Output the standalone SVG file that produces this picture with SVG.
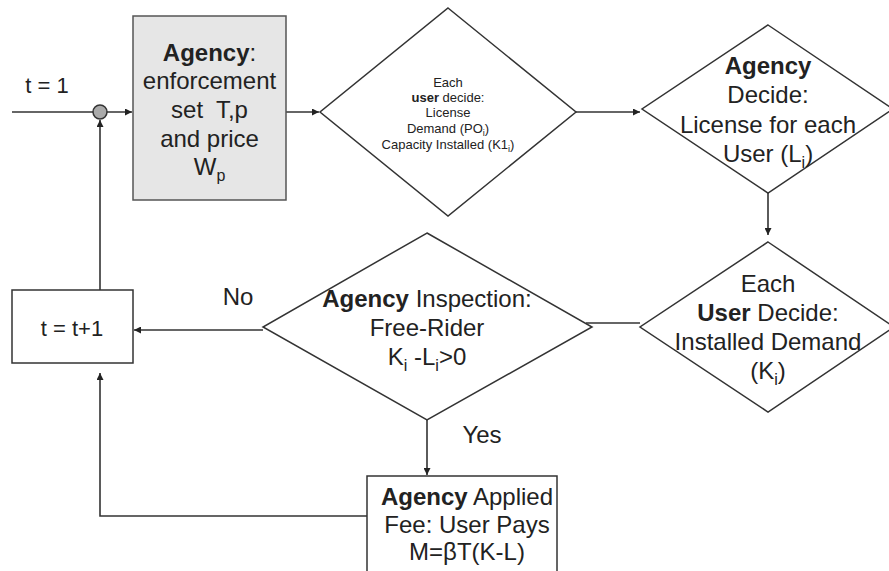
<svg xmlns="http://www.w3.org/2000/svg" width="889" height="571" viewBox="0 0 889 571">
<defs>
<marker id="arr" viewBox="0 0 10 10" refX="10" refY="5" markerWidth="7" markerHeight="7" markerUnits="userSpaceOnUse" orient="auto">
<path d="M0,0 L10,5 L0,10 z" fill="#222"/>
</marker>
</defs>
<style>
.shape{fill:#fff;stroke:#333;stroke-width:1.5}
.gray{fill:#e6e6e6;stroke:#555;stroke-width:1.5}
.line{fill:none;stroke:#333;stroke-width:1.6}
text{font-family:"Liberation Sans",Arial,sans-serif;fill:#222;text-anchor:middle}
.big{font-size:24px}
.mid{font-size:22px}
.small{font-size:13px}
.b{font-weight:bold}
</style>
<rect width="889" height="571" fill="#fff"/>
<g id="connectors">
<line class="line" x1="12" y1="112" x2="132" y2="112" marker-end="url(#arr)"/>
<line class="line" x1="100" y1="290" x2="100" y2="120" marker-end="url(#arr)"/>
<line class="line" x1="286" y1="112" x2="319" y2="112" marker-end="url(#arr)"/>
<line class="line" x1="576" y1="112" x2="640" y2="112" marker-end="url(#arr)"/>
<line class="line" x1="768" y1="193" x2="768" y2="235" marker-end="url(#arr)"/>
<line class="line" x1="640" y1="323" x2="586" y2="323"/>
<line class="line" x1="263" y1="330" x2="134" y2="330" marker-end="url(#arr)"/>
<line class="line" x1="427" y1="420" x2="427" y2="475" marker-end="url(#arr)"/>
<polyline class="line" points="367,516 100,516 100,373" marker-end="url(#arr)"/>
</g>
<g id="junction">
<circle cx="100" cy="112" r="7" fill="#aaa" stroke="#333" stroke-width="1.5"/>
</g>
<g id="start-label">
<text class="mid" x="47" y="93">t = 1</text>
</g>
<g id="agency-set">
<rect class="gray" x="133" y="16" width="153" height="184"/>
<text class="big" x="209.5" y="61"><tspan class="b">Agency</tspan>:</text>
<text class="big" x="209.5" y="89">enforcement</text>
<text class="big" x="209.5" y="118">set&#160; T,p</text>
<text class="big" x="209.5" y="147">and price</text>
<text class="big" x="209.5" y="175">W<tspan font-size="16" dy="6">p</tspan></text>
</g>
<g id="user-decide">
<polygon class="shape" points="448,8 576,112 448,216 320,112"/>
<text class="small" x="448" y="87">Each</text>
<text class="small" x="448" y="102"><tspan class="b">user</tspan> decide:</text>
<text class="small" x="448" y="117">License</text>
<text class="small" x="448" y="133">Demand (PO<tspan font-size="9" dy="3">i</tspan><tspan dy="-3">)</tspan></text>
<text class="small" x="448" y="149">Capacity Installed (K1<tspan font-size="9" dy="3">i</tspan><tspan dy="-3">)</tspan></text>
</g>
<g id="agency-license">
<polygon class="shape" points="768,25 893,109 768,193 642,109"/>
<text class="big b" x="768" y="74">Agency</text>
<text class="big" x="768" y="103">Decide:</text>
<text class="big" x="768" y="133">License for each</text>
<text class="big" x="768" y="162">User (L<tspan font-size="16" dy="6">i</tspan><tspan dy="-6">)</tspan></text>
</g>
<g id="user-installed">
<polygon class="shape" points="768,242 894,327 768,412 640,327"/>
<text class="big" x="768" y="292">Each</text>
<text class="big" x="768" y="321"><tspan class="b">User</tspan> Decide:</text>
<text class="big" x="768" y="350">Installed Demand</text>
<text class="big" x="768" y="379">(K<tspan font-size="16" dy="6">i</tspan><tspan dy="-6">)</tspan></text>
</g>
<g id="inspection">
<polygon class="shape" points="427,233 592,327 427,420 263,327"/>
<text class="big" x="427" y="307"><tspan class="b">Agency</tspan> Inspection:</text>
<text class="big" x="427" y="336">Free-Rider</text>
<text class="big" x="427" y="365">K<tspan font-size="16" dy="6">i</tspan><tspan dy="-6"> -L</tspan><tspan font-size="16" dy="6">i</tspan><tspan dy="-6">&gt;0</tspan></text>
</g>
<g id="increment">
<rect class="shape" x="12" y="290" width="121" height="73"/>
<text class="mid" x="72" y="336">t = t+1</text>
</g>
<g id="fee">
<rect class="shape" x="367" y="476" width="190" height="100"/>
<text class="big" x="467" y="505"><tspan class="b">Agency</tspan> Applied</text>
<text class="big" x="467" y="533">Fee: User Pays</text>
<text class="big" x="467" y="560">M=βT(K-L)</text>
</g>
<g id="labels">
<text class="big" x="238" y="305">No</text>
<text class="big" x="482" y="443">Yes</text>
</g>
</svg>
